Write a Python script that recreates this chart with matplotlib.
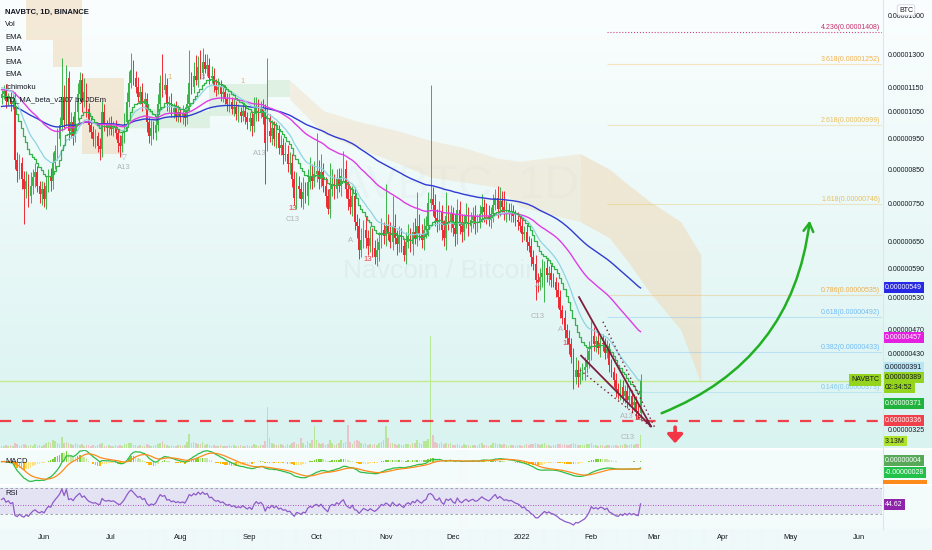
import numpy as np
import pandas as pd
import matplotlib
matplotlib.use("Agg")
import matplotlib.pyplot as plt
from matplotlib import font_manager
from matplotlib import transforms as mtransforms
from matplotlib.patches import Rectangle
from matplotlib.lines import Line2D
from matplotlib.ticker import NullLocator

# ---------------- data (prices in satoshi = 1e-8 BTC) ----------------
start_date = "2021-05-13"
first_open = 1105
closes = [
    1120, 1135, 1095, 1110, 1080, 1090, 880, 845, 870, 820,
    790, 815, 770, 800, 825, 840, 800, 775, 790, 760,
    800, 830, 815, 870, 910, 950, 1000, 1110, 1020, 1190,
    980, 1010, 960, 1050, 1120, 1180, 1090, 1130, 1060, 1000,
    975, 950, 960, 925, 915, 1050, 1000, 990, 1005, 985,
    995, 970, 935, 925, 960, 1010, 1090, 1170, 1225, 1190,
    1150, 1110, 1130, 1080, 1100, 1010, 960, 990, 970, 1000,
    1080, 1170, 1140, 1160, 1080, 1090, 1050, 1065, 1035, 1050,
    1030, 1045, 1025, 1080, 1170, 1150, 1200, 1180, 1240, 1210,
    1260, 1230, 1250, 1190, 1200, 1160, 1140, 1150, 1120, 1130,
    1100, 1080, 1090, 1060, 1070, 1040, 1050, 1035, 1055, 1030,
    1010, 1025, 995, 1040, 1070, 1045, 1060, 1030, 935, 980,
    960, 990, 950, 970, 920, 930, 895, 900, 865, 870,
    820, 765, 800, 790, 760, 780, 770, 810, 830, 815,
    835, 845, 820, 840, 800, 770, 735, 790, 805, 790,
    820, 800, 830, 850, 790, 760, 740, 770, 700, 690,
    630, 655, 680, 660, 640, 660, 635, 615, 630, 650,
    680, 665, 690, 675, 650, 690, 660, 645, 665, 640,
    620, 650, 665, 645, 675, 660, 690, 670, 655, 680,
    690, 750, 760, 745, 710, 700, 725, 680, 660, 715,
    700, 720, 685, 670, 730, 690, 675, 700, 715, 690,
    705, 715, 695, 700, 720, 740, 725, 715, 705, 720,
    745, 765, 735, 755, 740, 725, 730, 720, 725, 715,
    705, 700, 690, 670, 675, 650, 640, 615, 600, 565,
    560, 570, 580, 590, 575, 580, 565, 560, 545, 530,
    505, 490, 470, 455, 445, 425, 395, 405, 395, 400,
    405, 410, 420, 435, 460, 445, 450, 440, 448, 445,
    432, 438, 412, 402, 390, 378, 372, 380, 368, 375,
    362, 368, 356, 360, 348, 345, 389,
]
up_wick = [
    20, 25, 30, 15, 20, 35, 40, 25, 30, 20,
    25, 30, 20, 40, 25, 30, 20, 15, 25, 20,
    30, 20, 25, 35, 20, 40, 30, 170, 50, 60,
    30, 40, 25, 45, 50, 35, 30, 60, 40, 25,
    30, 20, 25, 15, 30, 45, 30, 20, 25, 30,
    20, 25, 15, 30, 20, 35, 40, 50, 80, 45,
    30, 45, 25, 40, 30, 25, 20, 30, 25, 35,
    40, 35, 130, 50, 30, 25, 35, 20, 30, 25,
    20, 30, 25, 40, 150, 45, 60, 95, 50, 80,
    70, 40, 50, 30, 45, 35, 25, 40, 30, 35,
    30, 25, 35, 20, 30, 25, 30, 20, 35, 25,
    20, 25, 30, 70, 40, 30, 35, 40, 50, 300,
    60, 30, 25, 40, 30, 35, 25, 40, 30, 35,
    30, 25, 40, 30, 20, 45, 30, 40, 60, 35,
    40, 125, 35, 60, 30, 25, 20, 80, 45, 30,
    30, 35, 25, 60, 30, 25, 40, 30, 25, 20,
    20, 30, 25, 35, 20, 30, 25, 20, 30, 25,
    30, 20, 115, 30, 25, 80, 30, 20, 25, 20,
    20, 25, 30, 20, 25, 35, 90, 30, 25, 30,
    25, 30, 400, 35, 30, 25, 30, 20, 25, 65,
    30, 25, 20, 35, 30, 25, 30, 20, 35, 25,
    20, 25, 30, 20, 25, 35, 20, 25, 30, 20,
    30, 25, 35, 40, 30, 45, 25, 20, 25, 20,
    15, 20, 15, 20, 15, 20, 15, 20, 15, 20,
    15, 20, 30, 15, 20, 15, 20, 15, 10, 15,
    15, 10, 15, 10, 15, 10, 15, 20, 15, 10,
    10, 15, 20, 15, 25, 15, 10, 15, 10, 15,
    10, 15, 10, 10, 8, 10, 8, 12, 10, 8,
    8, 10, 8, 10, 8, 10, 10,
]
down_wick = [
    25, 20, 30, 20, 25, 20, 30, 35, 25, 30,
    95, 25, 30, 20, 25, 30, 20, 25, 30, 20,
    25, 20, 30, 25, 20, 30, 25, 20, 30, 25,
    35, 25, 30, 20, 30, 25, 40, 20, 30, 25,
    20, 25, 30, 20, 35, 25, 20, 30, 25, 20,
    25, 20, 30, 35, 20, 25, 30, 20, 25, 30,
    25, 20, 30, 25, 20, 35, 25, 30, 20, 25,
    20, 25, 30, 20, 25, 30, 20, 25, 20, 25,
    20, 25, 30, 20, 25, 30, 25, 20, 30, 25,
    25, 20, 30, 25, 20, 30, 25, 20, 25, 30,
    20, 25, 30, 20, 25, 20, 30, 25, 20, 25,
    25, 30, 35, 20, 25, 30, 20, 25, 130, 25,
    20, 30, 25, 30, 20, 25, 30, 20, 25, 30,
    25, 20, 30, 25, 20, 25, 20, 25, 20, 25,
    20, 25, 30, 25, 20, 30, 15, 25, 20, 30,
    25, 20, 30, 20, 25, 30, 20, 25, 20, 30,
    20, 15, 20, 25, 20, 15, 20, 15, 20, 25,
    15, 20, 25, 20, 15, 20, 15, 25, 20, 15,
    15, 20, 15, 20, 25, 15, 20, 15, 20, 25,
    20, 25, 15, 30, 20, 25, 20, 25, 20, 30,
    20, 25, 20, 30, 25, 20, 25, 20, 15, 25,
    15, 20, 25, 20, 15, 20, 25, 20, 15, 20,
    20, 15, 25, 20, 15, 20, 25, 15, 20, 15,
    15, 20, 15, 20, 15, 20, 15, 20, 15, 40,
    20, 15, 20, 60, 15, 20, 15, 10, 15, 20,
    15, 10, 15, 10, 15, 10, 17, 10, 15, 10,
    10, 15, 10, 12, 15, 10, 12, 10, 15, 10,
    10, 8, 10, 8, 10, 12, 8, 10, 8, 10,
    10, 8, 10, 8, 10, 7, 10,
]
volume_m = [
    0.6, 0.5, 0.8, 0.4, 0.7, 0.5, 1.2, 0.9, 0.6, 0.8,
    1.0, 0.7, 0.5, 0.8, 0.6, 0.9, 0.5, 0.7, 0.6, 0.8,
    1.1, 1.4, 1.2, 1.9, 1.6, 1.3, 1.0, 2.6, 1.2, 1.5,
    1.3, 0.9, 0.8, 1.1, 1.0, 0.7, 0.9, 0.6, 0.8, 0.7,
    0.6, 0.8, 0.5, 0.7, 0.9, 1.1, 0.6, 0.5, 0.7, 0.6,
    0.5, 0.7, 0.6, 0.8, 0.6, 0.9, 1.0, 1.3, 1.2, 0.8,
    0.7, 0.6, 0.8, 0.5, 0.6, 0.9, 0.7, 0.6, 0.5, 0.8,
    1.0, 1.2, 1.6, 0.9, 0.7, 0.6, 0.8, 0.5, 0.6, 0.7,
    0.8, 0.6, 0.7, 1.4, 3.4, 1.2, 1.5, 1.1, 1.0, 0.9,
    1.4, 0.8, 0.9, 0.7, 0.6, 0.8, 0.5, 0.6, 0.7, 0.5,
    0.6, 0.5, 0.7, 0.6, 0.8, 0.5, 0.6, 0.7, 0.5, 0.6,
    0.7, 0.5, 0.6, 0.9, 0.8, 0.6, 0.7, 0.8, 1.8, 10.0,
    2.4, 1.2, 0.9, 0.8, 0.7, 1.0, 0.8, 0.6, 0.9, 0.7,
    1.2, 1.5, 0.9, 1.0, 2.4, 1.1, 0.8, 1.6, 1.3, 1.9,
    5.3, 2.0, 1.1, 0.9, 1.2, 0.8, 1.0, 1.9, 1.3, 0.8,
    0.9, 1.1, 1.9, 1.2, 1.5, 5.5, 1.4, 1.0, 1.6, 1.9,
    1.8, 1.2, 0.9, 1.1, 0.8, 1.0, 0.7, 0.9, 0.8, 1.2,
    1.4, 1.9, 5.3, 2.4, 1.1, 1.3, 0.9, 0.8, 1.0, 0.7,
    0.8, 0.9, 1.0, 0.7, 1.1, 1.3, 2.0, 1.2, 0.9, 1.6,
    1.8, 2.2, 27.0, 3.1, 1.5, 1.2, 1.0, 1.4, 0.9, 1.3,
    0.9, 1.1, 0.8, 0.7, 1.0, 0.8, 0.6, 0.9, 0.7, 0.8,
    0.6, 0.8, 0.7, 0.6, 0.9, 1.2, 0.8, 0.7, 0.6, 0.8,
    1.3, 1.1, 0.9, 1.0, 0.8, 0.9, 0.7, 0.6, 0.8, 0.7,
    0.6, 0.7, 0.8, 0.6, 0.7, 0.9, 0.8, 1.0, 0.9, 1.2,
    1.0, 0.8, 0.9, 1.1, 0.8, 0.7, 0.6, 0.8, 0.7, 0.9,
    1.0, 0.8, 0.9, 0.7, 0.8, 1.0, 1.2, 0.9, 0.8, 0.7,
    0.8, 0.7, 0.9, 1.0, 1.3, 0.8, 0.7, 0.6, 0.8, 0.7,
    0.6, 0.7, 0.8, 0.6, 0.7, 0.8, 0.6, 0.7, 0.8, 0.9,
    0.8, 0.7, 0.9, 0.8, 1.0, 0.9, 3.13,
]

# EMA settings (period, seed value before first bar)
ema_green = (13, 1110)
ema_cyan = (21, 1150)
ema_magenta = (55, 1140)
ema_blue = (100, 1070)
rsi_seed = (12.0, 12.0)  # average gain / loss before first bar

# Ichimoku cloud: bar index, top, bottom
cloud_k = [11, 23, 23, 36, 36, 55, 55, 93, 93, 119, 119, 129, 129, 144, 159, 177,
           192, 207, 222, 232, 259, 272, 281, 290, 304, 313]
cloud_top = [1700, 1700, 1700, 1700, 1190, 1190, 1065, 1055, 1165, 1165, 1180, 1180,
             1180, 1055, 1015, 980, 945, 920, 885, 875, 900, 850, 800, 755, 700, 620]
cloud_bot = [1370, 1370, 1240, 1240, 900, 900, 990, 990, 1035, 1035, 1110, 1110,
             1100, 970, 920, 870, 825, 810, 795, 740, 700, 660, 600, 540, 470, 386]
cloud_kind = "bbbbbbgggggbbbbbbbbbbbbbb"

price_ticks = [1500, 1300, 1150, 1050, 950, 850, 750, 650, 590, 530, 470, 430, 325]
month_dates = ["2021-06-01", "2021-07-01", "2021-08-01", "2021-09-01", "2021-10-01",
               "2021-11-01", "2021-12-01", "2022-01-01", "2022-02-01", "2022-03-01",
               "2022-04-01", "2022-05-01", "2022-06-01"]
month_labels = ["Jun", "Jul", "Aug", "Sep", "Oct", "Nov", "Dec", "2022", "Feb", "Mar",
                "Apr", "May", "Jun"]

fib_ratios = ["4.236", "3.618", "2.618", "1.618", "0.786", "0.618", "0.382", "0.146"]
fib_prices = [1408, 1252, 999, 746, 535, 492, 433, 373]
fib_colors = ["#c2185b", "#f2a93b", "#e8b84a", "#e9b949", "#eea83a", "#64b5f6", "#64b5f6", "#7cc3ea"]
fib_start = "2022-02-08"

support_price = 336
last_price = 389

wedge_upper = ([258.5, 290.7], [530, 329])
wedge_lower = ([259.4, 290.7], [427, 329])
wedge_dot_upper = ([269.2, 292.5], [484, 327])
wedge_dot_lower = ([258.9, 291.2], [405, 327])
arrow_up = ((294.3, 344), (361.9, 710))
arrow_down = ((301.5, 328), (301.5, 309))

td_labels = [  # (bar index, price, text, colour)
    (54.8, 854, "A13", "#b0b4bb"), (54.8, 889, "\u25bd", "#b0b4bb"),
    (75.4, 1190, "1", "#e3b36a"), (89.9, 1190, "3", "#9aa0a6"),
    (108.1, 1175, "1", "#e3b36a"),
    (115.7, 902, "A13", "#b0b4bb"),
    (130.5, 736, "13", "#f23645"), (130.3, 707, "C13", "#b0b4bb"),
    (156.4, 654, "A", "#b0b4bb"),
    (164.0, 610, "13", "#f23645"),
    (240.1, 554, "A", "#b0b4bb"), (240.1, 494, "C13", "#b0b4bb"),
    (250.4, 470, "A", "#b0b4bb"), (253.1, 446, "13", "#f23645"),
    (279.8, 341, "A13", "#b0b4bb"), (285.0, 339, "13", "#c0392b"),
    (280.4, 316, "C13", "#b0b4bb"),
]

axis_boxes = [  # price, text, face, text colour, pixel shift (up +)
    (549, "0.00000549", "#2727e6", "white", 0),
    (457, "0.00000457", "#e520e0", "white", 0),
    (391, "0.00000391", "#b9e4f2", "#131722", 12),
    (371, "0.00000371", "#22b33c", "white", -10),
    (336, "0.00000336", "#f2404a", "white", 0),
]
last_label = ("0.00000389", "02:34:52")
volume_label = "3.13M"
macd_labels = ["0.00000004", "-0.00000028"]
rsi_label = 44.62

# ---------------- helpers ----------------
W, H = 932, 550
names = {f.name for f in font_manager.fontManager.ttflist}
NARROW = "Liberation Sans Narrow" in names
FONT = "Liberation Sans Narrow" if NARROW else "Liberation Sans"
FS = 6.0 if NARROW else 5.0
plt.rcParams["font.family"] = [FONT, "DejaVu Sans"]
TXT = "#131722"

def rect(x0, y0, x1, y1):
    return [x0 / W, 1 - y1 / H, (x1 - x0) / W, (y1 - y0) / H]

def ema(vals, n, seed):
    a = 2.0 / (n + 1)
    out, prev = [], seed
    for v in vals:
        prev = prev + a * (v - prev)
        out.append(prev)
    return np.array(out)

c = np.array(closes, dtype=float)
o = np.array([first_open] + closes[:-1], dtype=float)
hi = np.maximum(o, c) + np.array(up_wick)
lo = np.minimum(o, c) - np.array(down_wick)
n = len(c)
k = np.arange(n)
start = pd.Timestamp(start_date)
month_k = [(pd.Timestamp(d) - start).days for d in month_dates]
fib_k0 = (pd.Timestamp(fib_start) - start).days

# indicators
green = ema(c, *ema_green)
cyan = ema(c, *ema_cyan)
mag = ema(c, *ema_magenta)
blue = ema(c, *ema_blue)
e12 = ema(c, 12, c[0]); e26 = ema(c, 26, c[0])
macd = e12 - e26
sig = ema(macd, 9, 0.0)
hist = macd - sig
d = np.diff(np.concatenate([[first_open], c]))
ag, al = rsi_seed
rsi = []
for dv in d:
    ag = (ag * 13 + max(dv, 0)) / 14
    al = (al * 13 + max(-dv, 0)) / 14
    rsi.append(100 - 100 / (1 + ag / max(al, 1e-9)))
rsi = np.array(rsi)

# ---------------- figure ----------------
fig = plt.figure(figsize=(W / 100, H / 100), dpi=100)

bg = fig.add_axes([0, 0, 1, 1], zorder=-10)
rows = np.zeros((H, 1, 3))
top_c = np.array(matplotlib.colors.to_rgb("#fbfefe"))
bot_c = np.array(matplotlib.colors.to_rgb("#d9f3f1"))
pane_c = np.array(matplotlib.colors.to_rgb("#f4fbfb"))
axis_c = np.array(matplotlib.colors.to_rgb("#eff9f9"))
for y in range(H):
    if y < 448:
        t = y / 448
        rows[y, 0] = top_c * (1 - t) + bot_c * t
    elif y < 529:
        rows[y, 0] = pane_c
    else:
        rows[y, 0] = axis_c
bg.imshow(rows, extent=[0, W, H, 0], aspect="auto", interpolation="bilinear")
bg.set_xlim(0, W); bg.set_ylim(H, 0); bg.axis("off")

XL = (-0.7, 394.1)
YL = (303.7, 1586.7)

# volume axes (behind)
axv = fig.add_axes(rect(0, 0, 882, 448), zorder=1)
axv.set_facecolor("none")
upday = c >= o
axv.bar(k, volume_m, width=0.7,
        color=np.where(upday, "#9fe05a", "#f3a6ad"), alpha=0.6, linewidth=0)
axv.set_xlim(*XL); axv.set_ylim(0, 108)
axv.axis("off")

# main price axes
ax = fig.add_axes(rect(0, 0, 882, 448), zorder=2)
ax.set_facecolor("none")
ax.set_yscale("log")
ax.set_xlim(*XL); ax.set_ylim(*YL)
for s in ax.spines.values():
    s.set_visible(False)
ax.set_xticks([])
ax.yaxis.set_ticks_position("right")
ax.set_yticks(price_ticks)
ax.set_yticklabels([f"{p * 1e-8:.8f}" for p in price_ticks])
ax.yaxis.set_minor_locator(NullLocator())
ax.tick_params(axis="y", length=0, pad=4.3, labelsize=FS, colors=TXT)

# watermark
ax.text(0.5, 0.585, "NAVBTC, 1D", transform=ax.transAxes, ha="center", va="center",
        fontsize=34, color="#8a8f99", alpha=0.045, zorder=0)
ax.text(0.5, 0.395, "Navcoin / Bitcoin", transform=ax.transAxes, ha="center", va="center",
        fontsize=19, color="#8a8f99", alpha=0.08, zorder=0)

# ichimoku cloud
for i in range(len(cloud_k) - 1):
    if cloud_k[i] == cloud_k[i + 1]:
        continue
    if cloud_kind[i] == "b":
        col, al_ = "#f0d9b8", (0.38 if 129 <= cloud_k[i] < 259 else 0.55)
    else:
        col, al_ = "#cde9cf", 0.55
    ax.fill_between(cloud_k[i:i + 2], cloud_bot[i:i + 2], cloud_top[i:i + 2],
                    color=col, alpha=al_, linewidth=0, zorder=0.5)

# fib levels
xr = XL[1]
for r, p, col in zip(fib_ratios, fib_prices, fib_colors):
    ls = ":" if r == "4.236" else "-"
    ax.hlines(p, fib_k0, xr, color=col, lw=0.8, ls=ls, alpha=0.3 if ls == "-" else 0.8, zorder=1)
    ax.annotate(f"{r}({p * 1e-8:.8f})", (xr, p), xytext=(-2, 1), textcoords="offset pixels",
                ha="right", va="bottom", fontsize=FS, color=col, alpha=0.9, zorder=4)

# current price line, support line
ax.axhline(last_price, color="#c6ea8e", lw=1.0, zorder=1)
ax.axhline(support_price, color="#f2404a", lw=1.6, ls=(0, (5, 5)), zorder=5)

# candles
up_col, dn_col = "#3bb44a", "#ee2a34"
cols = np.where(upday, up_col, dn_col)
ax.vlines(k, lo, hi, colors=cols, lw=0.7, zorder=2.5)
body_lo = np.minimum(o, c)
body_h = np.maximum(np.abs(c - o), 1.5)
ax.bar(k, body_h, bottom=body_lo, width=0.75, color=cols, linewidth=0, zorder=2.6)

# moving averages
ax.plot(k, blue, color="#2f3bd2", lw=1.0, zorder=3)
ax.plot(k, mag, color="#df3ce6", lw=1.0, zorder=3)
ax.plot(k, cyan, color="#8ed4e2", lw=0.9, zorder=3)
ax.plot(k, green, color="#33b34a", lw=0.9, drawstyle="steps-mid", zorder=3)

# TD labels
for kk, pp, t, col in td_labels:
    ax.text(kk, pp, t, ha="center", va="center", fontsize=5.5, color=col, zorder=4)

# wedge drawings
ax.plot(*wedge_upper, color="#7a1f3d", lw=1.3, zorder=6)
ax.plot(*wedge_lower, color="#7a1f3d", lw=1.3, zorder=6)
ax.plot(*wedge_dot_upper, color="#7a1f3d", lw=1.0, ls=(0, (1, 2.2)), zorder=6)
ax.plot(*wedge_dot_lower, color="#7a1f3d", lw=1.0, ls=(0, (1, 2.2)), zorder=6)

# arrows
ax.annotate("", xy=arrow_up[1], xytext=arrow_up[0],
            arrowprops=dict(arrowstyle="->,head_length=0.6,head_width=0.35",
                            connectionstyle="arc3,rad=0.3", color="#21b021", lw=1.8),
            zorder=6)
ax.annotate("", xy=arrow_down[1], xytext=arrow_down[0],
            arrowprops=dict(arrowstyle="-|>,head_length=0.5,head_width=0.45",
                            color="#f23645", lw=2.6, shrinkA=0, shrinkB=0),
            zorder=6)

# right-axis value boxes
tr = mtransforms.blended_transform_factory(ax.transAxes, ax.transData)
for p, t, fc, tc, sh in axis_boxes:
    ax.annotate(t, (1.0, p), xycoords=tr, xytext=(3, sh), textcoords="offset pixels",
                ha="left", va="center", fontsize=FS, color=tc, annotation_clip=False,
                bbox=dict(boxstyle="square,pad=0.28", fc=fc, ec="none"), zorder=10)
ax.annotate(last_label[0], (1.0, last_price), xycoords=tr, xytext=(3, 3), textcoords="offset pixels",
            ha="left", va="center", fontsize=FS, color=TXT, annotation_clip=False,
            bbox=dict(boxstyle="square,pad=0.28", fc="#95d41e", ec="none"), zorder=11)
ax.annotate(last_label[1], (1.0, last_price), xycoords=tr, xytext=(3, -7), textcoords="offset pixels",
            ha="left", va="center", fontsize=FS, color=TXT, annotation_clip=False,
            bbox=dict(boxstyle="square,pad=0.28", fc="#95d41e", ec="none"), zorder=10.5)
ax.annotate("NAVBTC", (1.0, last_price), xycoords=tr, xytext=(-3, 1), textcoords="offset pixels",
            ha="right", va="center", fontsize=FS, color=TXT, annotation_clip=False,
            bbox=dict(boxstyle="square,pad=0.3", fc="#95d41e", ec="none"), zorder=11)
trv = mtransforms.blended_transform_factory(axv.transAxes, axv.transData)
axv.annotate(volume_label, (1.0, volume_m[-1]), xycoords=trv, xytext=(3, -6),
             textcoords="offset pixels", ha="left", va="center", fontsize=FS, color=TXT,
             annotation_clip=False, bbox=dict(boxstyle="square,pad=0.28", fc="#aee22c", ec="none"),
             zorder=10)
fig.text(906 / W, 1 - 10 / H, "BTC", ha="center", va="center", fontsize=FS, color=TXT,
         bbox=dict(boxstyle="round,pad=0.25", fc="white", ec="#d1d4dc", lw=0.6), zorder=20)

# legend
legend = ["NAVBTC, 1D, BINANCE", "Vol", "EMA", "EMA", "EMA", "EMA", "Ichimoku",
          "TD_MA_beta_v2.07 by JDEm"]
for i, t in enumerate(legend):
    fig.text(5 / W, 1 - (12 + i * 12.6) / H, t, ha="left", va="center",
             fontsize=FS + 0.5, color=TXT, fontweight="bold" if i == 0 else "normal", zorder=20)

# ---------------- MACD pane ----------------
axm = fig.add_axes(rect(0, 449, 882, 483), zorder=2)
axm.set_facecolor("none")
hcol = []
for i, h in enumerate(hist):
    prev = hist[i - 1] if i else 0
    if h >= 0:
        hcol.append("#7bd13a" if h >= prev else "#c5e8a5")
    else:
        hcol.append("#ffb300" if h < prev else "#ffe082")
axm.bar(k, hist, width=0.7, color=hcol, linewidth=0)
axm.plot(k, macd, color="#2ebd48", lw=0.9)
axm.plot(k, sig, color="#ff8a1c", lw=0.9)
m_lo = min(macd.min(), sig.min()); m_hi = max(macd.max(), sig.max())
axm.set_ylim(m_lo * 1.08, m_hi * 1.1)
axm.set_xlim(*XL)
axm.axis("off")
axm.text(5 / 882, 0.62, "MACD", transform=axm.transAxes, ha="left", va="center",
         fontsize=FS + 0.5, color=TXT)
for yy, t, fc in [(0.67, macd_labels[0], "#57a957"), (0.32, macd_labels[1], "#22c24a")]:
    axm.text(1.0 + 3 / 882, yy, t, transform=axm.transAxes, ha="left", va="center",
             fontsize=FS, color="white", clip_on=False,
             bbox=dict(boxstyle="square,pad=0.28", fc=fc, ec="none"), zorder=10)
fig.patches.append(Rectangle((883 / W, 1 - 484 / H), 44 / W, 4 / H, transform=fig.transFigure,
                             fc="#ff8a1c", ec="none", zorder=9))

# ---------------- RSI pane ----------------
axr = fig.add_axes(rect(0, 485, 882, 528), zorder=2)
axr.set_facecolor("none")
axr.axhspan(30, 70, color="#8e5bd0", alpha=0.15, lw=0)
axr.axhline(70, color="#9598a1", lw=0.6, ls=(0, (3, 3)))
axr.axhline(30, color="#9598a1", lw=0.6, ls=(0, (3, 3)))
axr.axhline(rsi_label, color="#9c27b0", lw=0.6, ls=(0, (1, 2)))
axr.plot(k, rsi, color="#8e5bc8", lw=0.9)
axr.set_xlim(*XL); axr.set_ylim(8.5, 74.6)
for s in axr.spines.values():
    s.set_visible(False)
axr.set_yticks([])
axr.set_xticks(month_k)
axr.set_xticklabels(month_labels)
axr.tick_params(axis="x", length=0, pad=4.5, labelsize=FS + 0.4, colors=TXT)
axr.text(5 / 882, 0.8, "RSI", transform=axr.transAxes, ha="left", va="center",
         fontsize=FS + 0.5, color=TXT)
axr.annotate(f"{rsi_label:.2f}", (1.0, rsi_label),
             xycoords=mtransforms.blended_transform_factory(axr.transAxes, axr.transData),
             xytext=(3, 0), textcoords="offset pixels", ha="left", va="center",
             fontsize=FS, color="white", annotation_clip=False,
             bbox=dict(boxstyle="square,pad=0.28", fc="#8e24aa", ec="none"), zorder=10)

# separators
for yy in (448.5, 484.5):
    fig.add_artist(Line2D([0, 1], [1 - yy / H, 1 - yy / H], transform=fig.transFigure,
                          color="#ffffff", lw=1.5, zorder=8))
fig.add_artist(Line2D([882.5 / W, 882.5 / W], [1 - 529 / H, 1], transform=fig.transFigure,
                      color="#dfe6ea", lw=0.8, zorder=8))

fig.savefig("out.png", dpi=100)
